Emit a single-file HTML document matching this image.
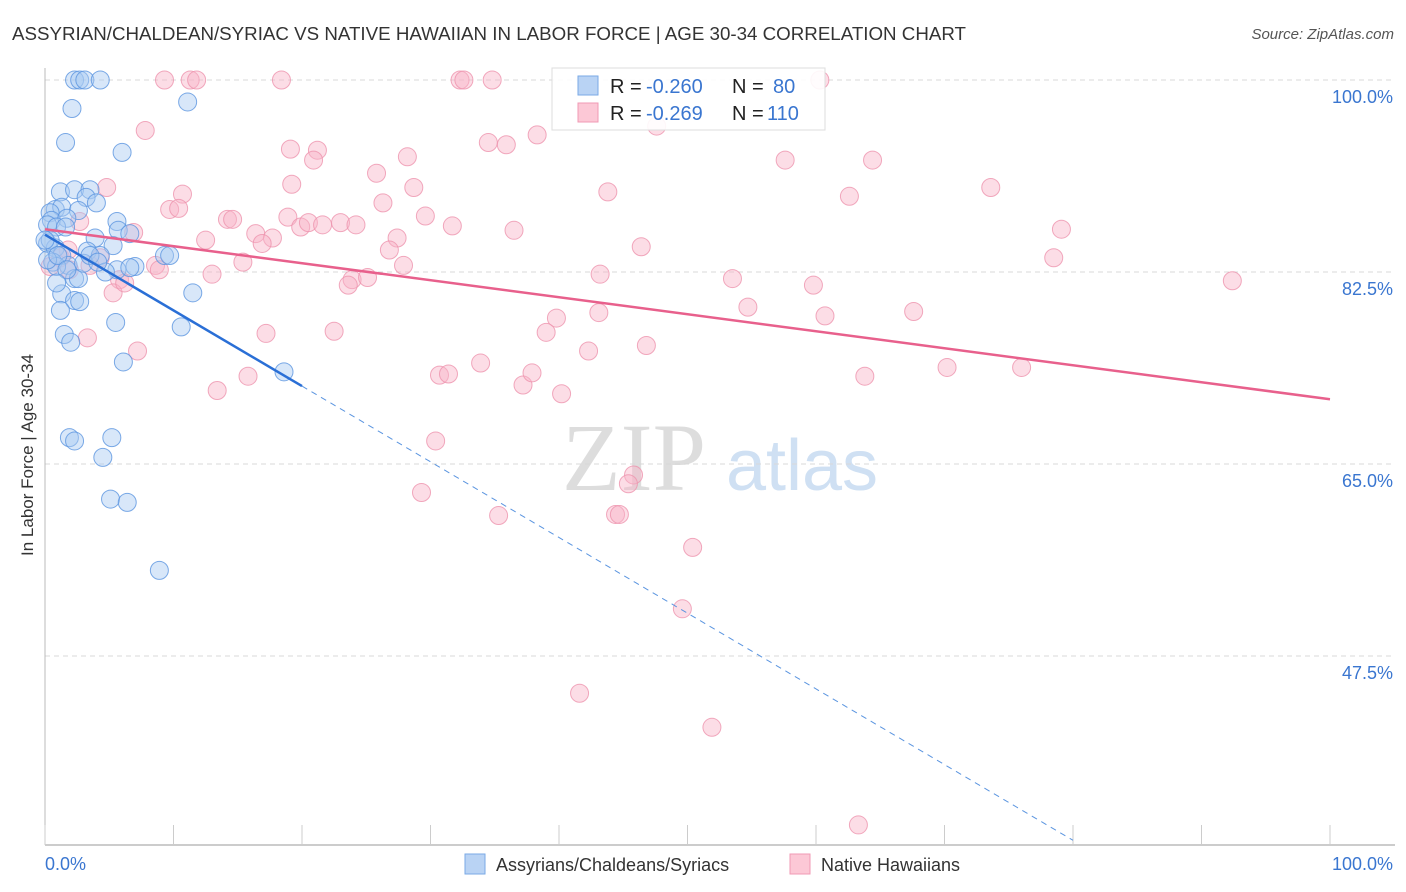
<!DOCTYPE html>
<html><head><meta charset="utf-8"><style>
body{margin:0;background:#fff;font-family:"Liberation Sans",sans-serif}
svg{display:block}
</style></head><body>
<svg id="chart" width="1406" height="892" xmlns="http://www.w3.org/2000/svg">
<text x="12" y="40" font-size="18" fill="#333" textLength="954" lengthAdjust="spacingAndGlyphs">ASSYRIAN/CHALDEAN/SYRIAC VS NATIVE HAWAIIAN IN LABOR FORCE | AGE 30-34 CORRELATION CHART</text>
<text x="1394" y="39" font-size="15" fill="#555" font-style="italic" text-anchor="end">Source: ZipAtlas.com</text>
<text transform="translate(33,455) rotate(-90)" font-size="17" fill="#333" text-anchor="middle">In Labor Force | Age 30-34</text>
<g>
<text x="634" y="490" font-size="96" font-family="Liberation Serif,serif" fill="#ddd" text-anchor="middle">ZIP</text>
<text x="802" y="490" font-size="72" fill="#cfe0f3" text-anchor="middle">atlas</text>
</g>
<g id="grid"></g><g id="axes"></g><g id="pts"></g><g id="trends"></g>
<g>
<rect x="552" y="68" width="273" height="62" fill="#fff" fill-opacity="0.9" stroke="#ddd"/>
<rect x="578" y="76" width="20" height="19" fill="#b9d3f4" stroke="#7aa9e6"/>
<rect x="578" y="103" width="20" height="19" fill="#fcc8d6" stroke="#f09ab4"/>
<text x="610" y="93" font-size="20" fill="#222">R =</text>
<text x="646" y="93" font-size="20" fill="#3a76d0">-0.260</text>
<text x="732" y="93" font-size="20" fill="#222">N =</text>
<text x="773" y="93" font-size="20" fill="#3a76d0">80</text>
<text x="610" y="120" font-size="20" fill="#222">R =</text>
<text x="646" y="120" font-size="20" fill="#3a76d0">-0.269</text>
<text x="732" y="120" font-size="20" fill="#222">N =</text>
<text x="767" y="120" font-size="20" fill="#3a76d0">110</text>
</g>
<g>
<rect x="465" y="854" width="20" height="20" fill="#b9d3f4" stroke="#7aa9e6"/>
<text x="496" y="871" font-size="18" fill="#333">Assyrians/Chaldeans/Syriacs</text>
<rect x="790" y="854" width="20" height="20" fill="#fcc8d6" stroke="#f09ab4"/>
<text x="821" y="871" font-size="18" fill="#333">Native Hawaiians</text>
</g>
</svg>
<script>
const yTicks=[100,82.5,65,47.5];
const yTickLabels=["100.0%","82.5%","65.0%","47.5%"];
const xTickLabels=["0.0%","100.0%"];
const blueX=[2.3,2.7,3.1,4.3,2.1,11.1,1.6,6.0,1.2,2.3,3.5,3.2,4.0,0.8,1.3,2.6,0.4,0.5,1.7,0.2,0.9,5.6,1.6,5.7,6.6,3.9,5.3,0.2,0.8,3.3,4.3,1.3,0.6,1.8,0.9,9.3,9.7,5.6,4.7,7.0,2.3,2.6,11.5,1.3,2.3,2.7,1.2,5.5,10.6,1.5,2.0,6.1,18.6,1.9,2.3,5.2,4.5,5.1,6.4,8.9,0.4,0.0,0.2,1.0,3.0,3.5,4.1,6.6,1.7,0.9];
const blueY=[100,100,100,100,97.4,98.0,94.3,93.4,89.8,90.0,90.0,89.3,88.8,88.2,88.4,88.1,87.9,87.2,87.4,86.8,86.6,87.1,86.6,86.3,86.0,85.6,84.9,85.1,84.7,84.4,84.0,84.0,83.4,83.1,83.0,84.0,84.0,82.7,82.5,83.0,81.9,81.9,80.6,80.5,79.9,79.8,79.0,77.9,77.5,76.8,76.1,74.3,73.4,67.4,67.1,67.4,65.6,61.8,61.5,55.3,85.4,85.4,83.6,84.0,83.3,84.0,83.4,82.9,82.7,81.5];
const pinkX=[9.3,11.3,11.8,18.4,32.3,32.6,34.8,60.3,7.8,4.8,10.7,9.7,10.4,6.9,2.7,12.5,14.2,14.6,16.4,15.4,17.7,16.9,19.1,21.2,20.9,19.2,25.8,28.2,28.7,26.3,18.9,19.9,20.5,21.6,23.0,24.2,29.6,31.7,27.4,26.8,27.9,23.9,23.6,25.1,13.0,8.6,8.9,4.3,5.8,5.3,3.3,7.2,13.4,15.8,17.2,22.5,34.5,35.9,38.3,47.6,57.6,64.4,43.8,62.6,73.6,79.1,36.5,46.4,43.2,53.5,59.8,92.4,78.5,54.7,60.7,67.6,39.8,39.0,43.1,42.3,46.8,33.9,37.2,37.9,40.2,30.7,31.4,63.8,70.2,76.0,30.4,29.3,35.3,45.8,45.4,44.4,44.7,50.4,49.6,41.6,51.9,63.3,0.4,1.2,1.9,3.5,1.8,6.2];
const pinkY=[100,100,100,100,100,100,100,100,95.4,90.2,89.6,88.2,88.3,86.1,87.1,85.4,87.3,87.3,86.0,83.4,85.6,85.1,93.7,93.6,92.7,90.5,91.5,93.0,90.2,88.8,87.5,86.6,87.0,86.8,87.0,86.8,87.6,86.7,85.6,84.5,83.1,81.8,81.3,82.0,82.3,83.1,82.7,83.8,81.8,80.6,76.5,75.3,71.7,73.0,76.9,77.1,94.3,94.1,95.0,95.8,92.7,92.7,89.8,89.4,90.2,86.4,86.3,84.8,82.3,81.9,81.3,81.7,83.8,79.3,78.5,78.9,78.3,77.0,78.8,75.3,75.8,74.2,72.2,73.3,71.4,73.1,73.2,73.0,73.8,73.8,67.1,62.4,60.3,64.0,63.2,60.4,60.4,57.4,51.8,44.1,41.0,32.1,83.0,83.8,82.7,83.1,84.5,81.5];
const blueTrend=[85.9,-0.69];   // intercept, slope
const pinkTrend=[86.4,-0.155];
const blueSolidEnd=20, blueDashEnd=80;

const X=v=>45+v*12.85;
const Y=v=>80+(100-v)*10.971;
const NS="http://www.w3.org/2000/svg";
function mk(tag,attrs,parent){const e=document.createElementNS(NS,tag);for(const k in attrs)e.setAttribute(k,attrs[k]);document.getElementById(parent).appendChild(e);return e;}

yTicks.forEach((t,i)=>{
  const l=mk('line',{x1:45,x2:1395,y1:Y(t),y2:Y(t),stroke:'#d8d8d8','stroke-dasharray':'5,4'},'grid');
  
  
  const tx=mk('text',{x:1393,y:Y(t)+23,'font-size':18,fill:'#3a76d0','text-anchor':'end'},'grid');
  tx.textContent=yTickLabels[i];
  
  
});
const ya=mk('line',{x1:45,x2:45,y1:68,y2:845,stroke:'#bbb'},'axes');


const xa=mk('line',{x1:45,x2:1395,y1:845,y2:845,stroke:'#bbb','stroke-width':1.5},'axes');


for(let i=0;i<=10;i++){
  const t=mk('line',{x1:X(i*10),x2:X(i*10),y1:825,y2:845,stroke:'#ccc'},'axes');
  
  
}
[[0,'start',45],[100,'end',1393]].forEach((d,i)=>{
  const t=mk('text',{x:d[2],y:870,'font-size':18,fill:'#3a76d0','text-anchor':d[1]},'axes');
  t.textContent=xTickLabels[i];
  
  
});
pinkX.forEach((v,i)=>{
  const c=mk('circle',{cx:X(v),cy:Y(pinkY[i]),r:9,fill:'#f8b4c8','fill-opacity':0.45,stroke:'#ee93ae','stroke-opacity':0.8},'pts');
  
  
});
blueX.forEach((v,i)=>{
  const c=mk('circle',{cx:X(v),cy:Y(blueY[i]),r:9,fill:'#a9c9f1','fill-opacity':0.45,stroke:'#5b95e0','stroke-opacity':0.8},'pts');
  
  
});
const bt=v=>blueTrend[0]+blueTrend[1]*v, pt=v=>pinkTrend[0]+pinkTrend[1]*v;
const pl=mk('line',{x1:X(0),y1:Y(pt(0)),x2:X(100),y2:Y(pt(100)),stroke:'#e8608c','stroke-width':2.5},'trends');


const bl=mk('line',{x1:X(0),y1:Y(bt(0)),x2:X(blueSolidEnd),y2:Y(bt(blueSolidEnd)),stroke:'#2a6fd6','stroke-width':2.5},'trends');


const bd=mk('line',{x1:X(blueSolidEnd),y1:Y(bt(blueSolidEnd)),x2:X(blueDashEnd),y2:Y(bt(blueDashEnd)),stroke:'#5b95e0','stroke-width':1,'stroke-dasharray':'6,5'},'trends');


</script>
</body></html>
